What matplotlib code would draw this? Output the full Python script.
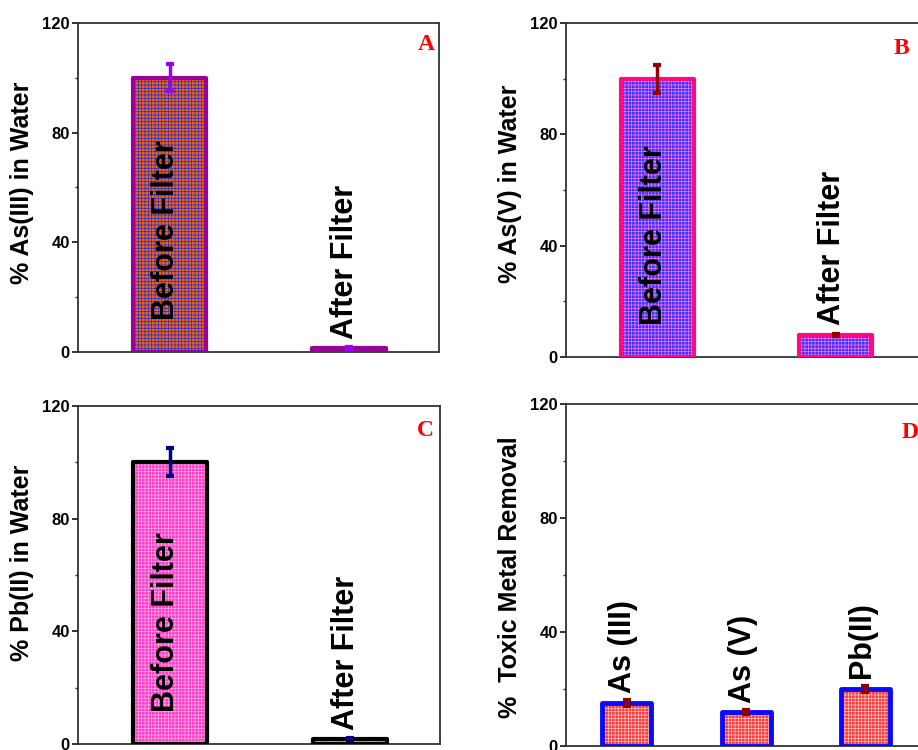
import numpy as np
import matplotlib
matplotlib.use('Agg')
import matplotlib.pyplot as plt
from matplotlib.ticker import MultipleLocator

# ---- data ----
filter_labels = ['Before Filter', 'After Filter']
as3_values = [100, 1.5]
as3_errors = [5, 0.3]
as5_values = [100, 7.9]
as5_errors = [5, 0.5]
pb2_values = [100, 1.8]
pb2_errors = [5, 0.3]

metal_labels = ['As (III)', 'As (V)', 'Pb(II)']
removal_values = [15.1, 11.9, 20.0]
removal_errors = [1.0, 0.8, 1.2]

plt.rcParams['font.family'] = ['Liberation Sans', 'DejaVu Sans']
plt.rcParams['font.weight'] = 'bold'
plt.rcParams['hatch.linewidth'] = 0.5

fig = plt.figure(figsize=(9.18, 7.5), dpi=100)

# axes boxes in figure fraction (B and D run off the right edge like the original)
axA = fig.add_axes([0.085, 0.5307, 0.393, 0.4387])
axB = fig.add_axes([0.6166, 0.524, 0.391, 0.4453])
axC = fig.add_axes([0.085, 0.008, 0.394, 0.4507])
axD = fig.add_axes([0.6166, 0.0053, 0.391, 0.456])


def style_axis(ax, ylabel, label_xy, letter, letter_xy, nbars):
    ax.set_ylim(0, 120)
    ax.set_xlim(0.49, nbars + 0.5)
    ax.yaxis.set_major_locator(MultipleLocator(40))
    ax.yaxis.set_minor_locator(MultipleLocator(20))
    ax.set_xticks([])
    ax.tick_params(axis='y', which='major', direction='out', length=4, width=1.3,
                   labelsize=12, colors='#222222', pad=2)
    ax.tick_params(axis='y', which='minor', direction='out', length=2.5, width=1.0,
                   colors='#222222')
    for lbl in ax.get_yticklabels():
        lbl.set_fontweight('bold')
        lbl.set_color('black')
    for sp in ax.spines.values():
        sp.set_color('#333333')
        sp.set_linewidth(1.3)
    ax.set_ylabel(ylabel, fontsize=18, fontweight='bold')
    ax.yaxis.set_label_coords(*label_xy)
    ax.text(letter_xy[0], letter_xy[1], letter, transform=ax.transAxes,
            ha='center', va='center', fontsize=17, fontweight='bold',
            color='#FF0000', family=['Liberation Serif', 'DejaVu Serif'])


def hatched_bars(ax, x, values, width, face, hatch_col, edge, lw):
    ax.bar(x, values, width, color=face, edgecolor=hatch_col, linewidth=0,
           hatch='+++++', zorder=2)
    ax.bar(x, values, width, fill=False, edgecolor=edge, linewidth=lw,
           joinstyle='round', zorder=3)


def filter_panel(ax, values, errors, face, hatch_col, edge, ecol):
    x = np.arange(1, len(values) + 1)
    hatched_bars(ax, x, values, 0.41, face, hatch_col, edge, 3)
    ax.errorbar(x, values, yerr=errors, fmt='none', ecolor=ecol,
                elinewidth=2.5, capsize=3, capthick=3, zorder=4)
    for xi, lab, v, e in zip(x, filter_labels, values, errors):
        y = 11.5 if v > 50 else v + e + 3
        ax.text(xi - 0.02, y, lab, rotation=90, ha='center', va='bottom',
                fontsize=22, fontweight='bold', color='black', zorder=5)


filter_panel(axA, as3_values, as3_errors, '#E8641C', '#2B2BC8', '#990099', '#9A00FF')
style_axis(axA, '% As(III) in Water', (-0.122, 0.515), 'A', (0.964, 0.933), 2)

filter_panel(axB, as5_values, as5_errors, '#3838F5', '#FF70FF', '#FF0A84', '#990000')
style_axis(axB, '% As(V) in Water', (-0.123, 0.52), 'B', (0.934, 0.925), 2)

filter_panel(axC, pb2_values, pb2_errors, '#FF3CC8', '#FFA8E8', '#000000', '#000080')
style_axis(axC, '% Pb(II) in Water', (-0.122, 0.535), 'C', (0.961, 0.926), 2)

xd = np.arange(1, len(removal_values) + 1)
hatched_bars(axD, xd, removal_values, 0.41, '#FF3A3A', '#FFC4C4', '#0A0AFF', 3.5)
axD.errorbar(xd, removal_values, yerr=removal_errors, fmt='none', ecolor='#8B0000',
             elinewidth=3, capsize=3, capthick=3, zorder=4)
for xi, lab, v, e in zip(xd, metal_labels, removal_values, removal_errors):
    axD.text(xi - 0.03, v + e + 2.5, lab, rotation=90, ha='center', va='bottom',
             fontsize=22, fontweight='bold', color='black', zorder=5)
style_axis(axD, '%  Toxic Metal Removal', (-0.123, 0.494), 'D', (0.958, 0.918), 3)

fig.savefig('out.png', dpi=100)
